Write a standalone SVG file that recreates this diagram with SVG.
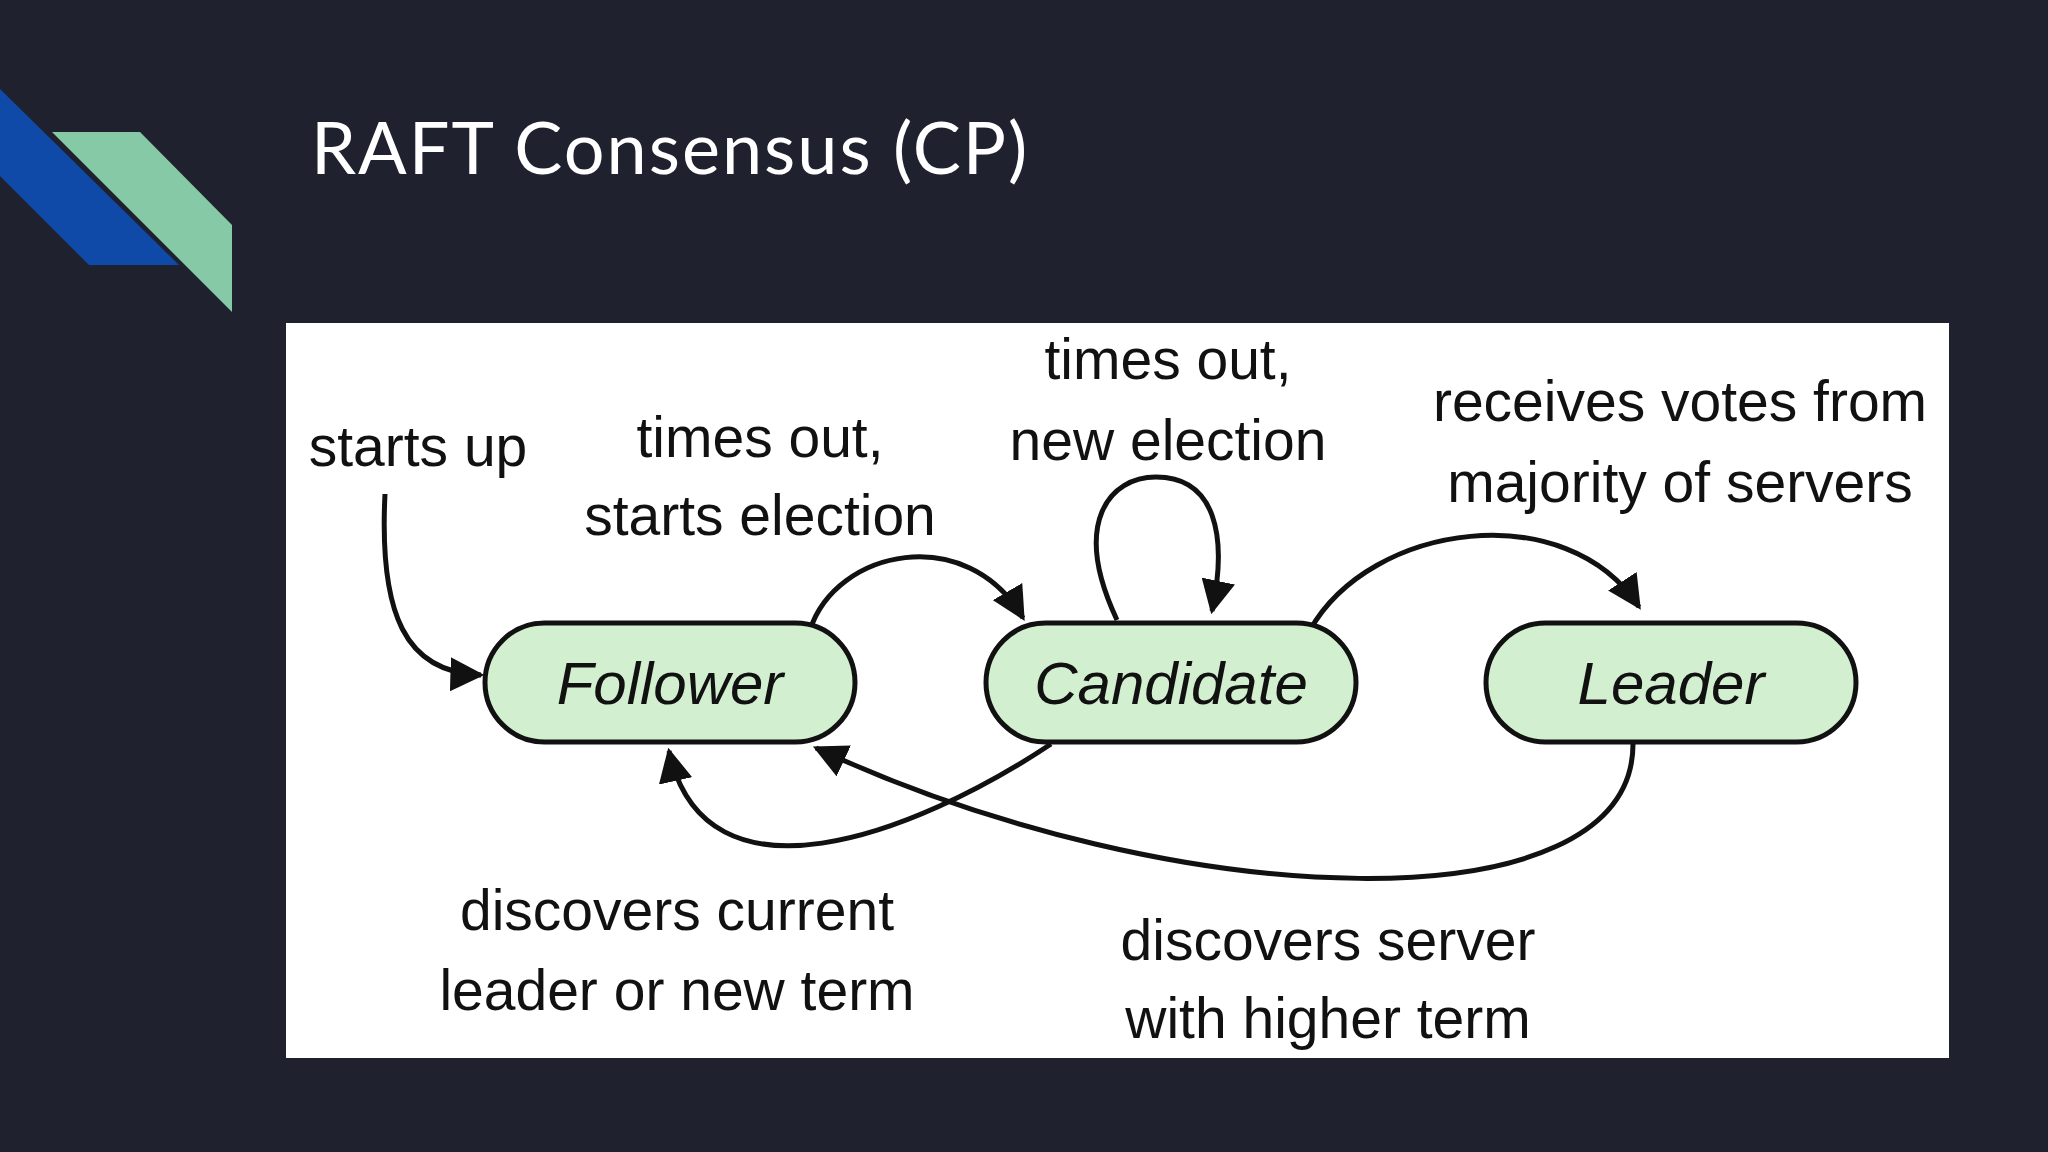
<svg xmlns="http://www.w3.org/2000/svg" width="2048" height="1152" viewBox="0 0 2048 1152">
<defs>
<style>
.node{fill:#d2efcf;stroke:#111;stroke-width:5}
.nt{font-family:"Liberation Sans",Arial,sans-serif;font-style:italic;font-size:60px;fill:#111;text-anchor:middle}
.lb{font-family:"Liberation Sans",Arial,sans-serif;font-size:57px;fill:#111;text-anchor:middle}
.c{fill:none;stroke:#111;stroke-width:5;marker-end:url(#ah)}
</style>
<marker id="ah" markerUnits="userSpaceOnUse" markerWidth="34" markerHeight="34" viewBox="0 0 10 10" refX="9" refY="5" orient="auto">
<path d="M0,0 L10,5 L0,10 Z" fill="#111"/>
</marker>
</defs>
<rect width="2048" height="1152" fill="#1f212e"/>
<polygon points="0,89 179,265 89,265 0,176" fill="#0f4aa8"/>
<polygon points="52,132 140,132 232,225 232,312" fill="#86c9a6"/>
<text x="311" y="174" font-family="Lato,'Open Sans',sans-serif" font-size="72" letter-spacing="2" fill="#fff">RAFT Consensus (CP)</text>
<rect x="286" y="323" width="1663" height="735" fill="#fff"/>
<g id="connectors">
<path class="c" d="M385,494 C379,614 405,673 481,675"/>
<path class="c" d="M810,630 C836,549 967,522 1023,618"/>
<path class="c" d="M1117,620 C1071,522 1110,477 1156,477 C1215,477 1228,535 1212,611"/>
<path class="c" d="M1310,630 C1371,522 1567,496 1639,607"/>
<path class="c" d="M1051,744 C914,835 705,915 669,751"/>
<path class="c" d="M1633,744 C1633,930 1175,915 816,748"/>
</g>
<g id="follower"><rect class="node" x="485" y="623" width="370" height="119" rx="59.5"/><text class="nt" x="670" y="704">Follower</text></g>
<g id="candidate"><rect class="node" x="986" y="623" width="370" height="119" rx="59.5"/><text class="nt" x="1171" y="704">Candidate</text></g>
<g id="leader"><rect class="node" x="1486" y="623" width="370" height="119" rx="59.5"/><text class="nt" x="1671" y="704">Leader</text></g>
<g id="labels">
<text class="lb" x="418" y="466">starts up</text>
<text class="lb" x="760" y="457">times out,</text>
<text class="lb" x="760" y="535">starts election</text>
<text class="lb" x="1168" y="379">times out,</text>
<text class="lb" x="1168" y="460">new election</text>
<text class="lb" x="1680" y="421">receives votes from</text>
<text class="lb" x="1680" y="502">majority of servers</text>
<text class="lb" x="677" y="930">discovers current</text>
<text class="lb" x="677" y="1010">leader or new term</text>
<text class="lb" x="1328" y="960">discovers server</text>
<text class="lb" x="1328" y="1038">with higher term</text>
</g>
</svg>
